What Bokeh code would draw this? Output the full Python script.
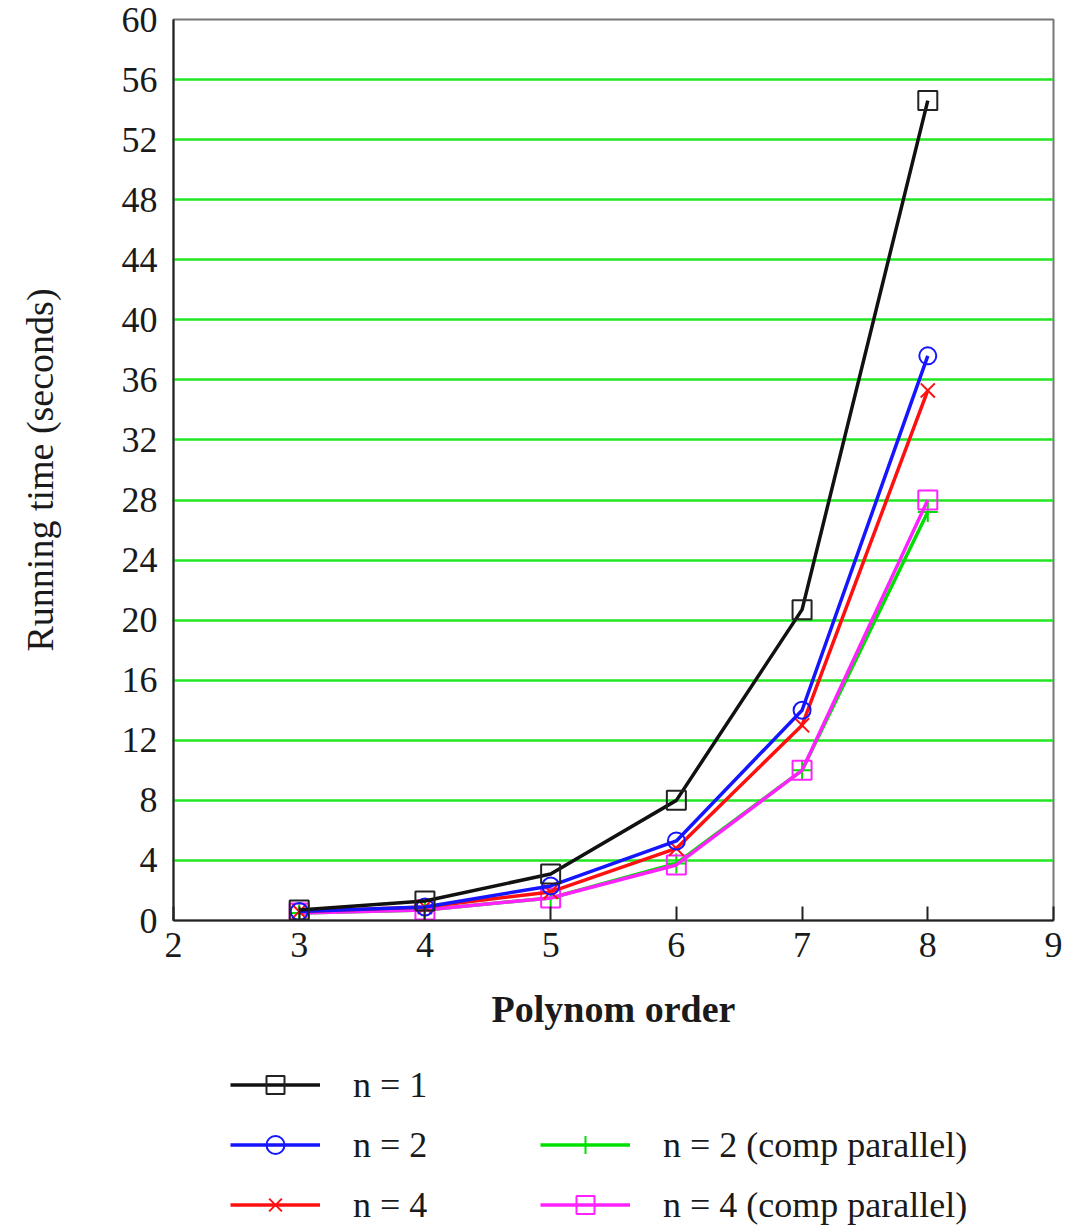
from bokeh.plotting import figure
from bokeh.layouts import column
from bokeh.models import Range1d, FixedTicker, Legend, LegendItem
from bokeh.embed import file_html
from bokeh.resources import INLINE

# Polynomial order on the x axis, running time in seconds per series
orders = [3, 4, 5, 6, 7, 8]
t_n1 = [0.7, 1.3, 3.1, 8.0, 20.7, 54.6]
t_n2 = [0.6, 0.9, 2.3, 5.3, 14.0, 37.6]
t_n4 = [0.6, 0.9, 1.9, 4.8, 13.0, 35.3]
t_n2_par = [0.5, 0.7, 1.5, 3.8, 10.0, 27.2]
t_n4_par = [0.5, 0.7, 1.5, 3.7, 10.0, 28.0]

series_labels = ["n = 1", "n = 2", "n = 4", "n = 2 (comp parallel)", "n = 4 (comp parallel)"]
y_ticks = list(range(0, 61, 4))
x_ticks = list(range(2, 10))

FONT = "Liberation Serif"
LW = 3.5

# line / marker styles per series: (line color, marker, marker size, marker color)
styles = [
    ("#111111", "square", 19, "#222222"),
    ("#1515ff", "circle", 17, "#1515ff"),
    ("#ff1010", "x", 20, "#ff1010"),
    ("#00e000", "cross", 20, "#00e000"),
    ("#ff22ff", "square", 19, "#ff22ff"),
]
series = [t_n1, t_n2, t_n4, t_n2_par, t_n4_par]

p = figure(width=1073, height=1045, output_backend="svg", toolbar_location=None,
           x_range=Range1d(2, 9), y_range=Range1d(0, 60),
           min_border_left=173, min_border_right=20, min_border_top=19, min_border_bottom=125)

p.background_fill_color = "white"
p.border_fill_color = "white"
p.outline_line_color = "#777777"
p.outline_line_width = 2

# grid: green horizontal lines only
p.xgrid.grid_line_color = None
p.ygrid.grid_line_color = "#22e622"
p.ygrid.grid_line_width = 2.5
p.ygrid.ticker = FixedTicker(ticks=y_ticks)

p.xaxis.ticker = FixedTicker(ticks=x_ticks)
p.yaxis.ticker = FixedTicker(ticks=y_ticks)

for ax in (p.xaxis, p.yaxis):
    ax.axis_line_color = "#222222"
    ax.axis_line_width = 2
    ax.minor_tick_line_color = None
    ax.major_label_text_font = FONT
    ax.major_label_text_font_size = "36px"
    ax.major_label_text_color = "#1a1a1a"
    ax.axis_label_text_font = FONT
    ax.axis_label_text_color = "#1a1a1a"

p.xaxis.major_tick_in = 14
p.xaxis.major_tick_out = 0
p.xaxis.major_tick_line_color = "#222222"
p.xaxis.major_tick_line_width = 2
p.xaxis.major_label_standoff = 12
p.xaxis.axis_label = "Polynom order"
p.xaxis.axis_label_text_font_size = "38px"
p.xaxis.axis_label_text_font_style = "bold"
p.xaxis.axis_label_standoff = 28

p.yaxis.major_tick_in = 0
p.yaxis.major_tick_out = 0
p.yaxis.major_label_standoff = 16
p.yaxis.axis_label = "Running time (seconds)"
p.yaxis.axis_label_text_font_size = "38px"
p.yaxis.axis_label_text_font_style = "normal"
p.yaxis.axis_label_standoff = 58

# draw order: parallel variants first, n = 1 on top
for idx in [3, 4, 2, 1, 0]:
    lc, mk, sz, mc = styles[idx]
    p.line(orders, series[idx], line_color=lc, line_width=LW)
    p.scatter(orders, series[idx], marker=mk, size=sz, fill_color=None,
              line_color=mc, line_width=2)

# key panel beneath the chart (its frame lines up with the chart frame)
k = figure(width=1073, height=185, output_backend="svg", toolbar_location=None,
           x_range=Range1d(0, 1), y_range=Range1d(0, 1),
           min_border=0, min_border_left=0, min_border_right=0,
           min_border_top=0, min_border_bottom=0)
k.axis.visible = False
k.grid.visible = False
k.outline_line_color = None
k.background_fill_color = "white"
k.border_fill_color = "white"

items = []
for idx, lab in enumerate(series_labels):
    lc, mk, sz, mc = styles[idx]
    # series data lies outside this panel's ranges, so only the key samples show
    ln = k.line(orders, series[idx], line_color=lc, line_width=LW)
    sc = k.scatter(orders, series[idx], marker=mk, size=sz, fill_color=None,
                   line_color=mc, line_width=2)
    items.append(LegendItem(label=lab, renderers=[ln, sc]))


def make_legend(its, loc):
    lg = Legend(items=its, location=loc)
    lg.border_line_color = None
    lg.background_fill_alpha = 0
    lg.padding = 0
    lg.margin = 0
    lg.spacing = 15
    lg.glyph_width = 90
    lg.glyph_height = 45
    lg.label_height = 40
    lg.label_standoff = 33
    lg.label_text_font = FONT
    lg.label_text_font_size = "36px"
    lg.label_text_color = "#1a1a1a"
    return lg


k.add_layout(make_legend(items[:3], (57, 3)), "center")
k.add_layout(make_legend(items[3:], (367, 3)), "center")

layout = column(p, k, spacing=0)
open("out.html", "w").write(file_html(layout, INLINE))
